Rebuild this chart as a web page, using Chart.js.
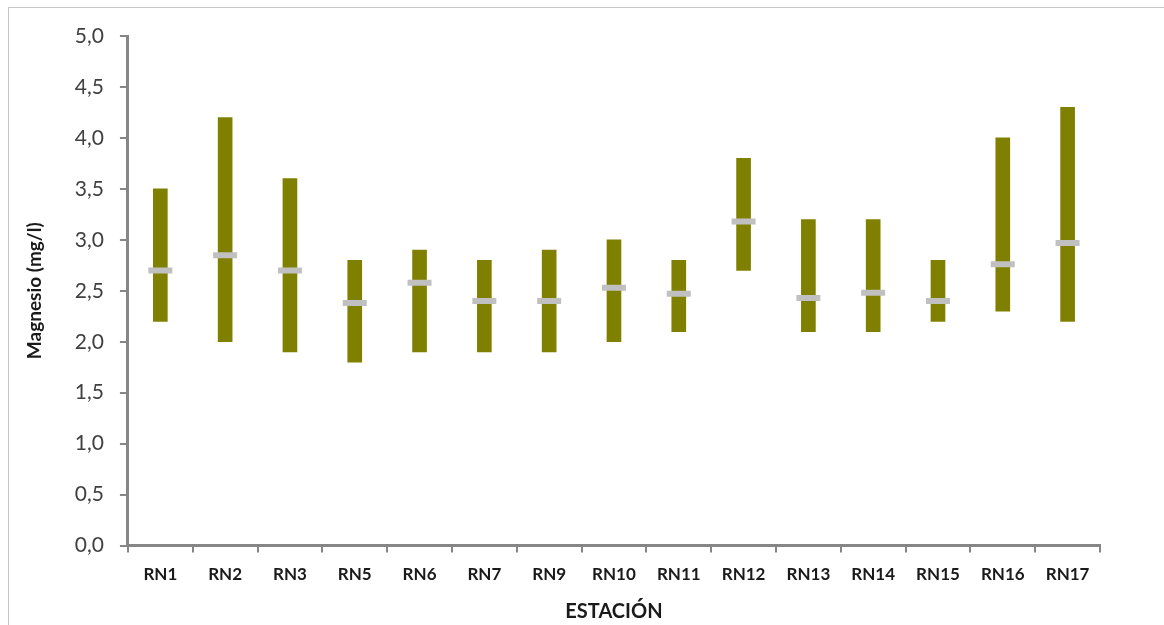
<!DOCTYPE html>
<html>
<head>
<meta charset="utf-8">
<script src="https://cdn.jsdelivr.net/npm/chart.js@4"></script>
<style>
  html, body { margin: 0; padding: 0; background: #fff; }
  #frame { position: absolute; left: 8px; top: 7px; width: 1180px; height: 640px; border: 1px solid #c6c6c6; }
  #wrap { position: absolute; left: 0; top: 0; width: 1164px; height: 625px; }
</style>
</head>
<body>
<div id="frame"></div>
<div id="wrap"><canvas id="chart" width="1164" height="625"></canvas></div>
<script>
// Magnesio por estación: mínimo, máximo y media
const stations = ['RN1', 'RN2', 'RN3', 'RN5', 'RN6', 'RN7', 'RN9', 'RN10', 'RN11', 'RN12', 'RN13', 'RN14', 'RN15', 'RN16', 'RN17'];
const minValues = [2.2, 2.0, 1.9, 1.8, 1.9, 1.9, 1.9, 2.0, 2.1, 2.7, 2.1, 2.1, 2.2, 2.3, 2.2];
const maxValues = [3.5, 4.2, 3.6, 2.8, 2.9, 2.8, 2.9, 3.0, 2.8, 3.8, 3.2, 3.2, 2.8, 4.0, 4.3];
const meanValues = [2.70, 2.85, 2.70, 2.38, 2.58, 2.40, 2.40, 2.53, 2.47, 3.18, 2.43, 2.48, 2.40, 2.76, 2.97];
const yTicks = [0, 0.5, 1, 1.5, 2, 2.5, 3, 3.5, 4, 4.5, 5];

const axisColor = '#868686';
const textColor = '#404040';
const fontFamily = 'Lato, "Open Sans", sans-serif';

const chart = new Chart(document.getElementById('chart'), {
  type: 'bar',
  data: {
    labels: stations,
    datasets: [
      {
        type: 'line',
        label: 'Media',
        data: meanValues,
        showLine: false,
        pointStyle: 'line',
        pointRadius: 12,
        pointHoverRadius: 12,
        borderWidth: 6,
        borderColor: '#c0c0c0',
        order: 0
      },
      {
        label: 'Rango',
        data: minValues.map((v, i) => [v, maxValues[i]]),
        backgroundColor: '#808000',
        borderSkipped: false,
        barThickness: 14,
        grouped: false,
        order: 1
      }
    ]
  },
  options: {
    responsive: false,
    animation: false,
    layout: { padding: { top: 36, right: 64, bottom: 1, left: 23 } },
    plugins: {
      legend: { display: false },
      tooltip: { enabled: false }
    },
    scales: {
      x: {
        offset: true,
        grid: {
          offset: true,
          drawOnChartArea: false,
          drawTicks: true,
          tickLength: 7,
          color: axisColor,
          lineWidth: 2
        },
        border: { color: axisColor, width: 3 },
        ticks: {
          color: '#1a1a1a',
          font: { family: fontFamily, size: 17, weight: 'bold' },
          padding: 12,
          maxRotation: 0,
          autoSkip: false
        },
        title: {
          display: true,
          text: 'ESTACIÓN',
          color: '#1a1a1a',
          font: { family: fontFamily, size: 20, weight: 'bold' },
          padding: { top: 3, bottom: 0 }
        }
      },
      y: {
        min: 0,
        max: 5,
        afterBuildTicks: (axis) => { axis.ticks = yTicks.map(v => ({ value: v })); },
        grid: {
          drawOnChartArea: false,
          drawTicks: true,
          tickLength: 8,
          color: axisColor,
          lineWidth: 2
        },
        border: { color: axisColor, width: 3 },
        ticks: {
          color: textColor,
          font: { family: fontFamily, size: 21 },
          padding: 16,
          callback: (v) => Number(v).toFixed(1).replace('.', ',')
        },
        title: {
          display: true,
          text: 'Magnesio (mg/l)',
          color: '#1a1a1a',
          font: { family: fontFamily, size: 19, weight: 'bold' },
          padding: { top: 0, bottom: 13 }
        }
      }
    }
  }
});
</script>
</body>
</html>
